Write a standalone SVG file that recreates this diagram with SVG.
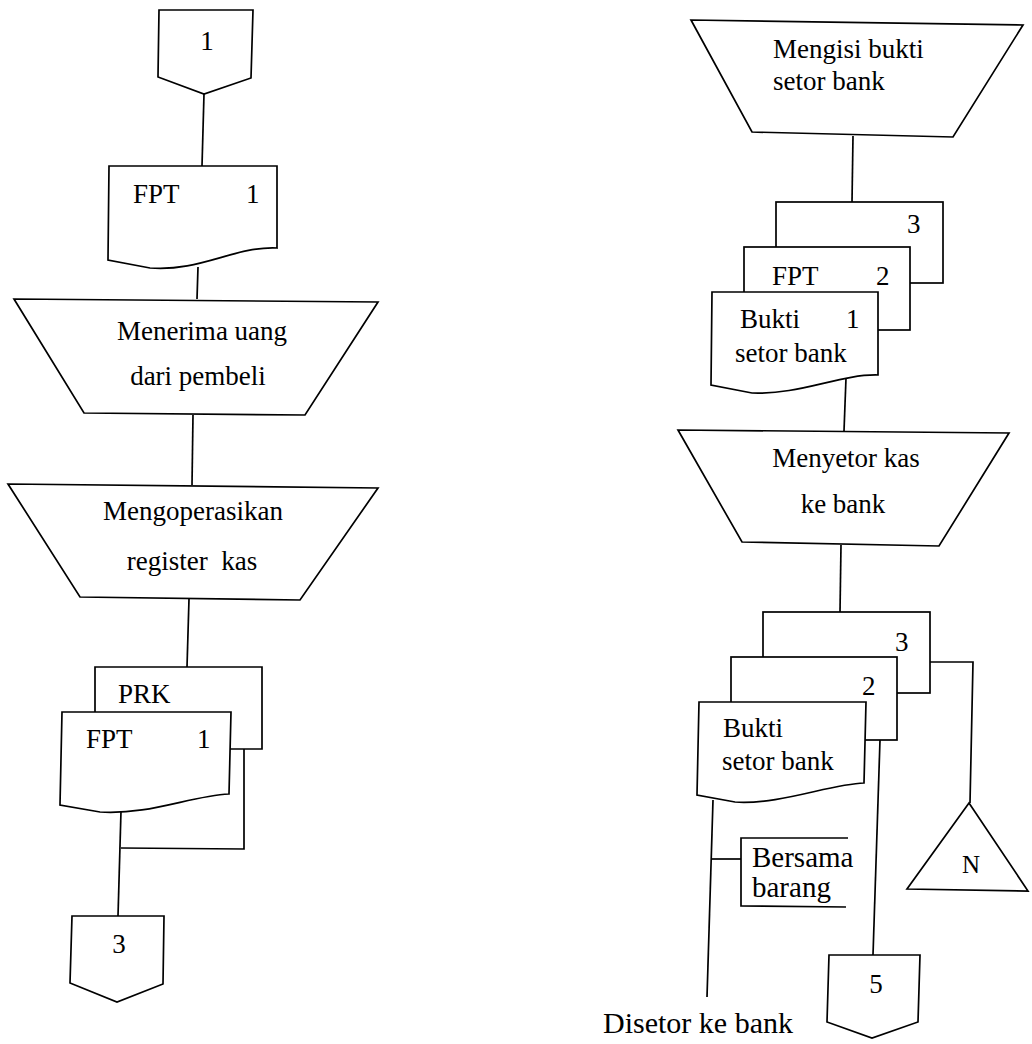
<svg xmlns="http://www.w3.org/2000/svg" width="1032" height="1044" viewBox="0 0 1032 1044">
<style>
.s{fill:#fff;stroke:#000;stroke-width:1.7;stroke-linejoin:miter}
.c{fill:none;stroke:#000;stroke-width:1.7}
text{font-family:"Liberation Serif","Times New Roman",serif;font-size:27px;fill:#000}
.m{text-anchor:middle}
.b{font-size:30px}
</style>
<rect width="1032" height="1044" fill="#fff"/>
<g id="connectors">
<path class="c" d="M204,94 L202,166"/>
<path class="c" d="M198,267 L197,299"/>
<path class="c" d="M193,415 L192,485"/>
<path class="c" d="M189,599 L187,667"/>
<path class="c" d="M244,749 L244,849 L121,848"/>
<path class="c" d="M121,811 L118,916"/>
<path class="c" d="M853,136 L852,202"/>
<path class="c" d="M846,378 L844,431"/>
<path class="c" d="M841,545 L840,612"/>
<path class="c" d="M930,662 L973,662 L970,803"/>
<path class="c" d="M880,740 L873,955"/>
<path class="c" d="M713,800 L707,997"/>
<path class="c" d="M712,859 L741,859"/>
</g>
<g id="n-conn1">
<path class="s" d="M159,10 L253,10 L251,78 L204,94 L158,77 Z"/>
<text class="m" x="207" y="50">1</text>
</g>
<g id="n-fpt-top">
<path class="s" d="M109,166 L277,166 L277,248 C235,246 200,272 150,268 L108,260 Z"/>
<text x="133" y="203">FPT</text>
<text x="246" y="203">1</text>
</g>
<g id="n-menerima">
<path class="s" d="M14,299 L378,302 L305,415 L84,413 Z"/>
<text class="m" x="202" y="340">Menerima uang</text>
<text class="m" x="198" y="385">dari pembeli</text>
</g>
<g id="n-mengoperasikan">
<path class="s" d="M8,484 L378,488 L300,600 L80,597 Z"/>
<text class="m" x="193" y="520">Mengoperasikan</text>
<text class="m" x="192" y="570" style="white-space:pre">register  kas</text>
</g>
<g id="n-prk-fpt">
<path class="s" d="M95,667 L262,667 L262,749 L95,749 Z"/>
<text x="118" y="703">PRK</text>
<path class="s" d="M62,712 L231,712 L229,794 C190,796 150,815 100,812 L60,805 Z"/>
<text x="86" y="748">FPT</text>
<text x="197" y="748">1</text>
</g>
<g id="n-conn3">
<path class="s" d="M72,916 L164,916 L163,984 L117,1002 L70,983 Z"/>
<text class="m" x="119" y="953">3</text>
</g>
<g id="n-mengisi">
<path class="s" d="M691,20 L1023,25 L953,137 L752,132 Z"/>
<text x="773" y="58">Mengisi bukti</text>
<text x="773" y="90">setor bank</text>
</g>
<g id="n-docs-a">
<rect class="s" x="776" y="202" width="167" height="81"/>
<text x="907" y="233">3</text>
<rect class="s" x="744" y="247" width="166" height="83"/>
<text x="772" y="285">FPT</text>
<text x="876" y="285">2</text>
<path class="s" d="M712,292 L878,292 L878,375 C840,374 800,395 752,393 L711,385 Z"/>
<text x="740" y="328">Bukti</text>
<text x="846" y="328">1</text>
<text x="735" y="362">setor bank</text>
</g>
<g id="n-menyetor">
<path class="s" d="M678,430 L1009,433 L939,546 L742,542 Z"/>
<text class="m" x="846" y="467">Menyetor kas</text>
<text class="m" x="843" y="513">ke bank</text>
</g>
<g id="n-docs-b">
<rect class="s" x="763" y="612" width="167" height="81"/>
<text x="895" y="651">3</text>
<rect class="s" x="731" y="657" width="166" height="83"/>
<text x="862" y="695">2</text>
<path class="s" d="M699,702 L866,702 L864,783 C830,784 780,805 735,802 L697,795 Z"/>
<text x="723" y="737">Bukti</text>
<text x="722" y="770">setor bank</text>
</g>
<g id="n-bersama">
<path class="c" d="M848,838 L741,838 L741,906 L846,907"/>
<text x="752" y="867" style="font-size:29px">Bersama</text>
<text x="752" y="897" style="font-size:29px">barang</text>
</g>
<g id="n-N">
<path class="s" d="M969,803 L1028,891 L907,889 Z"/>
<text class="m" x="971" y="873" style="font-size:25px">N</text>
</g>
<g id="n-conn5">
<path class="s" d="M829,955 L920,955 L918,1022 L872,1038 L827,1022 Z"/>
<text class="m" x="876" y="993">5</text>
</g>
<g id="n-disetor">
<text class="b" x="603" y="1033">Disetor ke bank</text>
</g>
</svg>
